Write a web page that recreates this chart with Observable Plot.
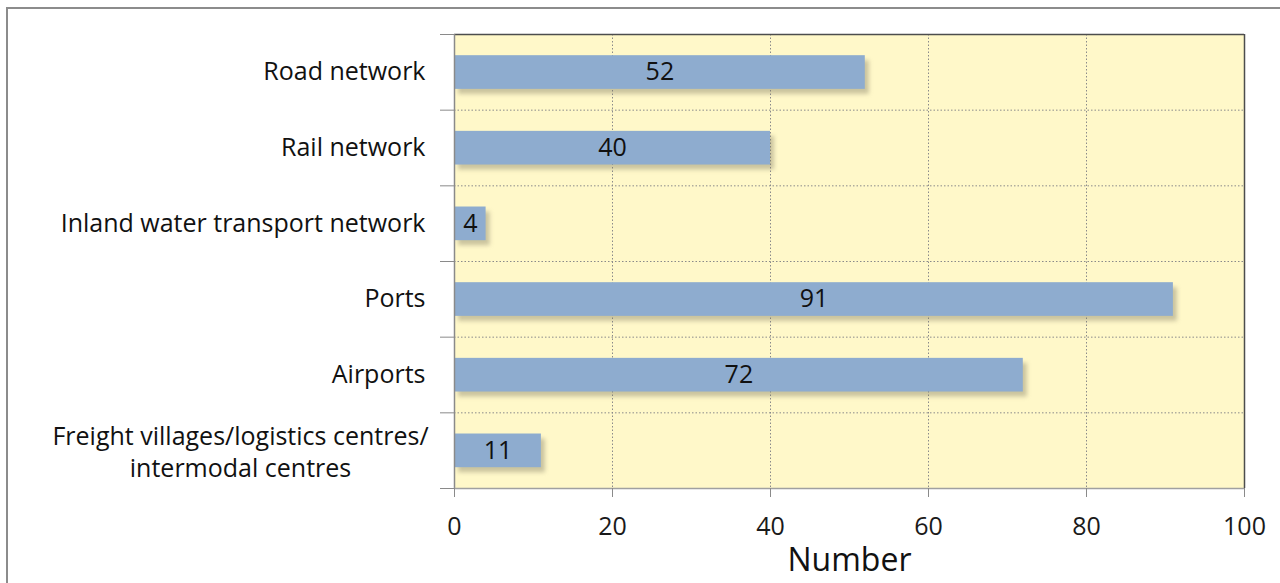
<!DOCTYPE html>
<html>
<head>
<meta charset="utf-8">
<script src="https://cdn.jsdelivr.net/npm/d3@7"></script>
<script src="https://cdn.jsdelivr.net/npm/@observablehq/plot@0.6"></script>
<style>
  html, body { margin: 0; padding: 0; background: #fff; overflow: hidden; }
  #wrap { position: relative; width: 1280px; height: 583px; }
  #border { position: absolute; left: 6px; top: 7px; width: 1300px; height: 600px;
            border-left: 2px solid #8c8c8c; border-top: 2px solid #8c8c8c; box-sizing: border-box; }
  #chart { position: absolute; left: 0; top: 0; }
  svg { font-family: "Open Sans", sans-serif; }
</style>
</head>
<body>
<div id="wrap"><div id="border"></div><div id="chart"></div></div>
<script>
const categories = [
  "Road network",
  "Rail network",
  "Inland water transport network",
  "Ports",
  "Airports",
  "Freight villages/logistics centres/\nintermodal centres"
];
const values = [52, 40, 4, 91, 72, 11];
const xTicks = [0, 20, 40, 60, 80, 100];
const axisTitle = "Number";

const data = categories.map((c, i) => ({cat: c, value: values[i], i, multi: c.includes("\n")}));
const boundaries = d3.range(categories.length + 1);
const inner = boundaries.slice(1, -1);

const plot = Plot.plot({
  width: 1280,
  height: 583,
  marginLeft: 454,
  marginRight: 36,
  marginTop: 34,
  marginBottom: 95,
  style: {fontSize: "20px", color: "#1a1a1a", background: "transparent"},
  x: {domain: [0, 100]},
  y: {domain: [0, categories.length], reverse: true, axis: null},
  marks: [
    Plot.frame({fill: "#fff8c9", stroke: null}),
    Plot.ruleX(xTicks.slice(1, -1), {stroke: "#8a8a8a", strokeDasharray: "1.5,2", strokeWidth: 1}),
    Plot.ruleY(inner, {stroke: "#8a8a8a", strokeDasharray: "1.5,2", strokeWidth: 1}),
    // shadows
    Plot.rect(data, {x1: 0, x2: "value", y1: d => d.i + 0.28, y2: d => d.i + 0.725, dx: 4, dy: 5, fill: "#7a7560", fillOpacity: 0.4, imageFilter: "blur(2px)"}),
    Plot.rect(data, {x1: 0, x2: "value", y1: d => d.i + 0.28, y2: d => d.i + 0.725, fill: "#8eaccf"}),
    Plot.text(data, {x: d => d.value / 2, y: d => d.i + 0.5, text: d => String(d.value), fontSize: 25, fill: "#111"}),
    Plot.text(data.filter(d => !d.multi), {x: 0, y: d => d.i + 0.5, text: "cat", textAnchor: "end", dx: -29, fontSize: 25, fill: "#111"}),
    Plot.text(data.filter(d => d.multi), {x: 0, y: d => d.i + 0.5, text: "cat", textAnchor: "middle", dx: -214, fontSize: 25, lineHeight: 1.28, fill: "#111"}),
    // frame lines
    Plot.ruleY([0], {stroke: "#4d4d4d", strokeWidth: 1.5}),
    Plot.ruleX([100], {stroke: "#4d4d4d", strokeWidth: 1.5}),
    Plot.ruleX([0], {stroke: "#8a8a8a", strokeWidth: 1.5}),
    Plot.ruleY([categories.length], {stroke: "#a0a0a0", strokeWidth: 1.5}),
    Plot.axisY({ticks: boundaries, tickSize: 14, tickFormat: () => "", stroke: "#8a8a8a"}),
    Plot.axisX({ticks: xTicks, tickSize: 9, tickPadding: 20, fontSize: 25, label: null, stroke: "#8a8a8a"}),
    Plot.text([axisTitle], {frameAnchor: "bottom", dy: 82, fontSize: 32, fill: "#111"})
  ]
});
document.getElementById("chart").appendChild(plot);
</script>
</body>
</html>
